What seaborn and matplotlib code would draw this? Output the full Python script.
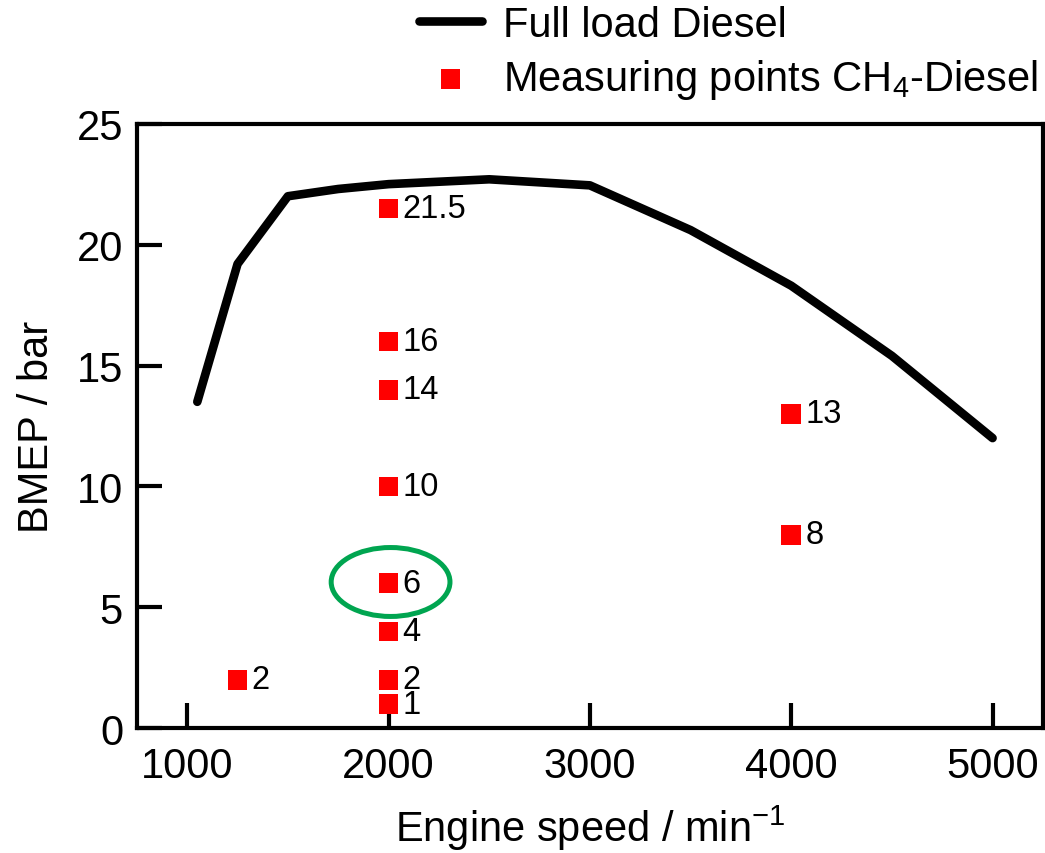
import matplotlib
matplotlib.use("Agg")
import matplotlib.pyplot as plt
import seaborn as sns
import pandas as pd
from matplotlib.patches import Ellipse

# Data
full_load_speed = [1050, 1250, 1500, 1750, 2000, 2500, 3000, 3500, 4000, 4500, 5000]
full_load_bmep = [13.5, 19.2, 22.0, 22.3, 22.5, 22.7, 22.45, 20.6, 18.3, 15.4, 12.0]

meas_speed = [1250, 2000, 2000, 2000, 2000, 2000, 2000, 2000, 2000, 4000, 4000]
meas_bmep = [2, 1, 2, 4, 6, 10, 14, 16, 21.5, 8, 13]
meas_labels = ["2", "1", "2", "4", "6", "10", "14", "16", "21.5", "8", "13"]

x_ticks = [1000, 2000, 3000, 4000, 5000]
y_ticks = [0, 5, 10, 15, 20, 25]

highlight_speed = 2010
highlight_bmep = 6.05

sns.set_theme(style="white")
plt.rcParams["font.family"] = ["Liberation Sans", "DejaVu Sans"]
plt.rcParams["mathtext.fontset"] = "custom"
plt.rcParams["mathtext.rm"] = "Liberation Sans"
plt.rcParams["text.color"] = "black"
plt.rcParams["axes.labelcolor"] = "black"

fig = plt.figure(figsize=(10.45, 8.54), dpi=100)
ax = fig.add_axes([0.131, 0.146, 0.867, 0.708])

df_line = pd.DataFrame({"speed": full_load_speed, "bmep": full_load_bmep})
df_pts = pd.DataFrame({"speed": meas_speed, "bmep": meas_bmep})

sns.lineplot(data=df_line, x="speed", y="bmep", ax=ax, color="black",
             linewidth=6.2, label="Full load Diesel", sort=False)
sns.scatterplot(data=df_pts, x="speed", y="bmep", ax=ax, marker="s", s=200,
                color="#ff0000", edgecolor="none", linewidth=0,
                label=r"Measuring points $\mathregular{CH_4}$-Diesel", zorder=3)

for xs, ys, lab in zip(meas_speed, meas_bmep, meas_labels):
    ax.annotate(lab, (xs, ys), xytext=(10, 0), textcoords="offset points",
                va="center", ha="left", fontsize=23.5, color="black")

ell = Ellipse((highlight_speed, highlight_bmep), width=590, height=2.85,
              fill=False, edgecolor="#00a550", linewidth=3.6, zorder=4)
ax.add_patch(ell)

ax.set_xlim(750, 5250)
ax.set_ylim(0, 25)
ax.set_xticks(x_ticks)
ax.set_yticks(y_ticks)
ax.tick_params(axis="both", direction="in", length=18, width=3, labelsize=30,
               colors="black", bottom=True, left=True, top=False, right=False)
ax.tick_params(axis="x", pad=13)
ax.tick_params(axis="y", pad=10)
for sp in ax.spines.values():
    sp.set_visible(True)
    sp.set_color("black")
    sp.set_linewidth(3)

ax.set_xlabel(r"Engine speed / min$^{\mathregular{-1}}$", fontsize=30, labelpad=12)
ax.set_ylabel("BMEP / bar", fontsize=30, labelpad=14)

ax.legend(loc="upper right", bbox_to_anchor=(1.009, 1.013),
          bbox_transform=fig.transFigure, frameon=False, fontsize=30,
          handlelength=1.5, handletextpad=0.5, labelspacing=0.3,
          markerscale=1.0, borderaxespad=0)

fig.savefig("out.png", dpi=100)
